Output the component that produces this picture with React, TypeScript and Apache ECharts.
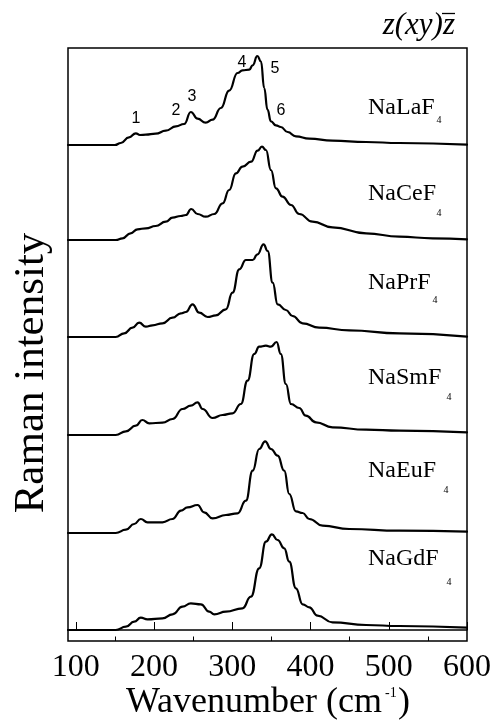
import React, { useEffect, useRef } from 'react';
import * as echarts from 'echarts';

// ---- data ----
const majorTicks = [100, 200, 300, 400, 500, 600];
const minorTicks = [150, 250, 350, 450, 550];
const compounds = ['NaLaF', 'NaCeF', 'NaPrF', 'NaSmF', 'NaEuF', 'NaGdF'];
const offsets = [485, 390, 293, 195, 97, 0];
const peakNumbers = ['1', '2', '3', '4', '5', '6'];

const naLaF4 = [
  [90, 0], [150, 0], [157.5, 2], [168, 7.7], [176.7, 11.7], [182, 10], [189.5, 10.3], [202, 11.3],
  [215, 14.3], [228, 18.7], [238.5, 21], [247, 33], [255.6, 26.3], [266, 22.3], [274.8, 25.3],
  [285.4, 37], [296, 54.3], [306.7, 72], [313, 74.7], [321.7, 75.3], [326, 79.7], [332, 89],
  [336.6, 83.7], [340.8, 57], [345, 35.3], [349.4, 23.7], [355.8, 19.7], [362, 18], [370.7, 13],
  [381.3, 8.7], [398.4, 6.3], [428, 4.3], [471, 3], [513.5, 2], [600, 0.3],
];
const naCeF4 = [
  [90, 0], [151, 0], [159.7, 1.7], [170, 6.7], [178.9, 10.7], [189.5, 11.7], [202, 14], [215, 18.3],
  [223.6, 22.3], [234, 24], [240.7, 25], [247.5, 31], [255.6, 26], [266, 23.3], [277, 26],
  [287.6, 36.7], [296, 50], [304.6, 66.7], [313, 73.3], [324, 78.3], [332.3, 89.3], [337.9, 93.3],
  [343, 90], [349.4, 70], [355.8, 51.7], [364.3, 43.3], [375, 35], [385.6, 26], [402.6, 18.3],
  [428, 12.7], [471, 6.7], [513.5, 3.3], [556, 1.7], [600, 0.7],
];
const naPrF4 = [
  [90, 0], [151, 0], [161.8, 3.7], [172.5, 9.3], [181, 14.3], [189.5, 10.3], [198, 11.7],
  [210.8, 13.7], [223.6, 19.3], [234.3, 23.7], [240.7, 25], [249.2, 32.7], [257.7, 24.3],
  [268.4, 20], [279, 21.7], [291.8, 27.7], [300.3, 44.3], [308.9, 67.7], [317.4, 77], [326, 77],
  [332.3, 82.7], [340, 92.7], [345.2, 86], [351.6, 54.3], [358, 32.7], [368.5, 27], [377, 21],
  [389.9, 13.7], [411, 9.3], [449.5, 6.7], [513.5, 3.7], [600, 0.3],
];
const naSmF4 = [
  [90, 0], [151, 0], [164, 3.7], [176.7, 9.3], [185, 15], [193.8, 11.7], [210.8, 12.3],
  [223.6, 16], [236.4, 26], [247, 29.3], [255.6, 32.7], [262, 26], [274.8, 17], [287.6, 20],
  [300.3, 21.7], [311, 31], [319.5, 54.3], [328, 81], [334.4, 88.3], [343, 89.3], [349.4, 88.3],
  [356.6, 93], [362, 81], [368.5, 51], [375, 31], [385.6, 27], [394, 19.3], [407, 12.7],
  [428, 7.7], [471, 5.3], [513.5, 4.3], [600, 2.7],
];
const naEuF4 = [
  [90, 0], [151, 0], [164, 3.3], [174.6, 9], [183, 14], [191.6, 10.7], [210.8, 10.7], [223.6, 14],
  [234.3, 22.3], [242.8, 25.7], [255.6, 28], [264, 20.7], [274.8, 14.7], [291.8, 18], [306.7, 19.7],
  [317.4, 32.3], [326, 62.3], [334.4, 84], [342, 91.7], [349.4, 84], [358, 77.3], [366.4, 62.3],
  [372.8, 39], [381.3, 21.7], [389.9, 20], [398.4, 14], [415.4, 7.3], [449.5, 4], [513.5, 2.3],
  [600, 1.3],
];
const naGdF4 = [
  [90, 0], [151, 0], [164, 3.3], [174.6, 8.3], [183, 12.3], [191.6, 10.7], [210.8, 11.7],
  [223.6, 15.7], [236.4, 23.3], [247, 26.7], [259.9, 25.7], [270.5, 18.3], [277, 15.7],
  [291.8, 18.3], [313, 21.7], [323.8, 33.3], [334.4, 61.7], [343, 88.3], [350.6, 95.7],
  [357.9, 90], [366.4, 81.7], [372.8, 68.3], [381.3, 41.7], [389.9, 25.7], [398.4, 22.7],
  [409, 14.3], [428, 7.7], [471, 5], [513.5, 4], [600, 2.3],
];
const spectra = [naLaF4, naCeF4, naPrF4, naSmF4, naEuF4, naGdF4];

// ---- layout ----
const nameLabelPos = [
  { y: 106, sx: 439, sy: 119 },
  { y: 192, sx: 439, sy: 212 },
  { y: 281, sx: 435, sy: 299 },
  { y: 376, sx: 449, sy: 396 },
  { y: 469, sx: 446, sy: 489 },
  { y: 557, sx: 449, sy: 581 },
];
const peakLabelPos = [
  [136, 117], [176, 109], [192, 95], [242, 61], [275, 67], [281, 109],
];

const SERIF = '"Liberation Serif", "Times New Roman", serif';
const SANS = '"Liberation Sans", Arial, sans-serif';

export default function App() {
  const ref = useRef<HTMLDivElement>(null);
  useEffect(() => {
    if (!ref.current) return;
    const chart = echarts.init(ref.current, undefined, { renderer: 'svg' });

    const series = spectra.map((spec, i) => ({
      type: 'line',
      name: compounds[i] + '4',
      data: spec.map(([x, y]) => [x, y + offsets[i]]),
      showSymbol: false,
      smooth: 0.5,
      smoothMonotone: 'x',
      lineStyle: { color: '#000', width: 2.2, join: 'round', cap: 'round' },
      silent: true,
    }));

    const graphics: any[] = [];
    compounds.forEach((c, i) => {
      const p = nameLabelPos[i];
      graphics.push({
        type: 'text', x: 368, y: p.y,
        style: { text: c, font: `24px ${SERIF}`, fill: '#000', align: 'left', verticalAlign: 'middle' },
      });
      graphics.push({
        type: 'text', x: p.sx, y: p.sy,
        style: { text: '4', font: `10px ${SERIF}`, fill: '#000', align: 'center', verticalAlign: 'middle' },
      });
    });
    peakNumbers.forEach((n, i) => {
      graphics.push({
        type: 'text', x: peakLabelPos[i][0], y: peakLabelPos[i][1],
        style: { text: n, font: `16px ${SANS}`, fill: '#000', align: 'center', verticalAlign: 'middle' },
      });
    });
    // scattering geometry
    graphics.push({
      type: 'text', x: 455, y: 23,
      style: { text: 'z(xy)z', font: `italic 31px ${SERIF}`, fill: '#000', align: 'right', verticalAlign: 'middle' },
    });
    graphics.push({
      type: 'line', shape: { x1: 442, y1: 13.5, x2: 455, y2: 13.5 },
      style: { stroke: '#000', lineWidth: 1.3 },
    });
    // axis titles
    graphics.push({
      type: 'text', x: 126, y: 700,
      style: { text: 'Wavenumber (cm', font: `36px ${SERIF}`, lineHeight: 28, fill: '#000', align: 'left', verticalAlign: 'middle' },
    });
    graphics.push({
      type: 'text', x: 385, y: 692,
      style: { text: '-1', font: `14px ${SERIF}`, lineHeight: 12, fill: '#000', align: 'left', verticalAlign: 'middle' },
    });
    graphics.push({
      type: 'text', x: 398, y: 700,
      style: { text: ')', font: `36px ${SERIF}`, lineHeight: 28, fill: '#000', align: 'left', verticalAlign: 'middle' },
    });
    graphics.push({
      type: 'text', x: 28, y: 373, rotation: Math.PI / 2,
      style: { text: 'Raman intensity', font: `43px ${SERIF}`, fill: '#000', align: 'center', verticalAlign: 'middle' },
    });

    chart.setOption({
      animation: false,
      grid: { left: 68, right: 29, top: 48, bottom: 87, show: true, borderColor: '#000', borderWidth: 1.5, backgroundColor: 'transparent' },
      xAxis: [
        {
          type: 'value', min: 90, max: 600,
          axisLine: { show: true, lineStyle: { color: '#000', width: 1.5 } },
          axisTick: { show: true, inside: true, length: 8, customValues: majorTicks, lineStyle: { color: '#000', width: 1 } },
          axisLabel: { customValues: majorTicks, fontFamily: SERIF, fontSize: 32, lineHeight: 26, color: '#000', margin: 11 },
          splitLine: { show: false },
        },
        {
          type: 'value', min: 90, max: 600, position: 'bottom', offset: 0,
          axisLine: { show: false },
          axisTick: { show: true, inside: true, length: 4.5, customValues: minorTicks, lineStyle: { color: '#000', width: 1 } },
          axisLabel: { show: false },
          splitLine: { show: false },
        },
      ],
      yAxis: { type: 'value', min: -11, max: 582, show: false, splitLine: { show: false } },
      series,
      graphic: graphics,
    });
    return () => chart.dispose();
  }, []);
  return <div ref={ref} style={{ position: 'fixed', left: 0, top: 0, width: 496, height: 728 }} />;
}
